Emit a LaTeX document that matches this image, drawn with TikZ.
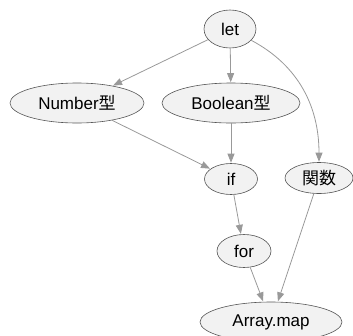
\documentclass[tikz,border=0pt]{standalone}
\usepackage{fontspec}
\setmainfont{Liberation Sans}
\newfontfamily\jpfont{Noto Sans CJK JP}
\usetikzlibrary{shapes.geometric,arrows.meta}
\definecolor{nodefill}{HTML}{F2F2F2}
\definecolor{nodeline}{HTML}{555555}
\definecolor{edgecol}{HTML}{999999}
\tikzset{
  nd/.style={ellipse, draw=nodeline, fill=nodefill, line width=0.6pt, inner sep=0pt, font=\fontsize{17}{19}\selectfont},
  edge/.style={draw=edgecol, line width=0.8pt, -{Triangle[length=9pt,width=7pt]}, shorten >=0.5pt}
}
\begin{document}
\begin{tikzpicture}[x=1pt,y=-1pt]
\useasboundingbox (0,0) rectangle (353,335);
\node[nd, minimum width=52pt, minimum height=38pt] (let) at (230,29) {let};
\node[nd, minimum width=134pt, minimum height=40pt] (num) at (77,103) {Number{\jpfont 型}};
\node[nd, minimum width=138pt, minimum height=40pt] (bool) at (231,103) {Boolean{\jpfont 型}};
\node[nd, minimum width=53pt, minimum height=31pt] (if) at (231,179) {if};
\node[nd, minimum width=68pt, minimum height=31pt] (fn) at (319,178) {\jpfont 関数};
\node[nd, minimum width=54pt, minimum height=33pt] (for) at (244,251) {for};
\node[nd, minimum width=142pt, minimum height=40pt] (arr) at (271,322) {Array.map};
\draw[edge] (let) -- (num);
\draw[edge] (let) -- (bool);
\draw[edge] (let) to[out=-28, in=90] (fn);
\draw[edge] (num) -- (if);
\draw[edge] (bool) -- (if);
\draw[edge] (if) -- (for);
\draw[edge] (for) -- (arr);
\draw[edge] (fn) -- (arr);
\end{tikzpicture}
\end{document}
